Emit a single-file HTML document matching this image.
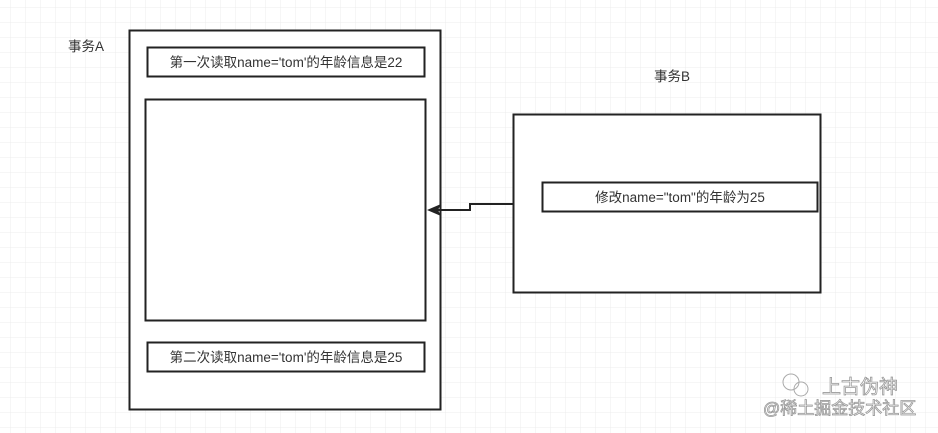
<!DOCTYPE html>
<html><head><meta charset="utf-8"><style>
html,body{margin:0;padding:0;background:#fff;}
svg{display:block;}
text{font-family:"Liberation Sans","Noto Sans CJK SC",sans-serif;font-size:13.5px;fill:#333;}
</style></head><body>
<svg width="938" height="433" viewBox="0 0 938 433" xmlns="http://www.w3.org/2000/svg">
<defs>
<pattern id="g" x="10" y="7" width="15" height="15" patternUnits="userSpaceOnUse">
<path d="M0 0H15M0 0V15" stroke="#ececec" stroke-width="1" fill="none"/>
</pattern>
</defs>
<rect width="938" height="433" fill="url(#g)"/>
<g fill="#fff" stroke="#222" stroke-width="2">
<rect x="129.5" y="30.5" width="311" height="379"/>
<rect x="147.5" y="47.5" width="277" height="29"/>
<rect x="145.5" y="99.5" width="280" height="221"/>
<rect x="147.5" y="342.5" width="277" height="29"/>
<rect x="513.5" y="114.5" width="307" height="178"/>
<rect x="542.5" y="182.5" width="275" height="29"/>
</g>
<path d="M513 204H470V210H437" fill="none" stroke="#222" stroke-width="2"/>
<path d="M427 210L441 204L438 210L441 216Z" fill="#222"/>
<text x="68" y="51">事务A</text>
<text x="654" y="81">事务B</text>
<text x="286" y="67" text-anchor="middle">第一次读取name='tom'的年龄信息是22</text>
<text x="286" y="362" text-anchor="middle">第二次读取name='tom'的年龄信息是25</text>
<text x="680" y="202" text-anchor="middle">修改name="tom"的年龄为25</text>
<text x="822" y="393" style="font-size:19px;fill:#fff;stroke:#999;stroke-width:0.8">上古伪神</text>
<text x="763" y="414" style="font-size:17px;fill:#fff;stroke:#999;stroke-width:0.8">@稀土掘金技术社区</text>
<circle cx="791" cy="382" r="8" fill="none" stroke="#aaa"/>
<circle cx="801" cy="389" r="7" fill="none" stroke="#aaa"/>
</svg>
</body></html>
